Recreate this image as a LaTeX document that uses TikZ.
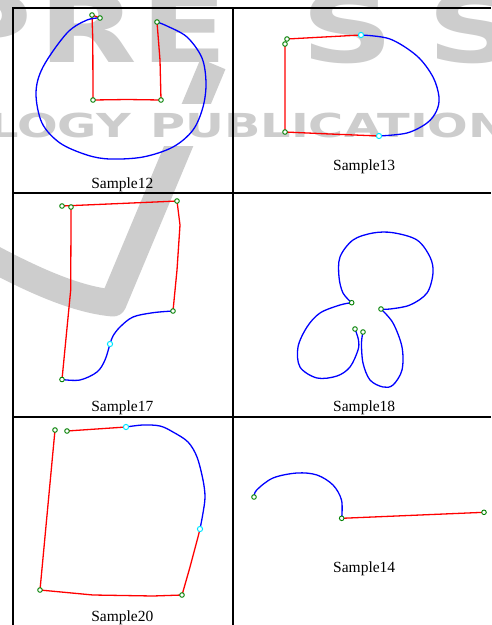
\documentclass[tikz,border=0pt]{standalone}
\usepackage{fontspec}
\setmainfont{Liberation Serif}
\newfontfamily\wmfont{DejaVu Sans}
\definecolor{wmgray}{RGB}{205,205,205}
\definecolor{redc}{RGB}{255,0,0}
\definecolor{bluec}{RGB}{0,0,255}
\definecolor{greenc}{RGB}{0,128,0}
\definecolor{cyanc}{RGB}{0,230,255}
\tikzset{
  tbl/.style={line width=2pt, black},
  redline/.style={draw=redc, line width=1.3pt, line join=round},
  blueline/.style={draw=bluec, line width=1.3pt, line join=round},
  gpt/.style={circle, draw=greenc, fill=white, line width=0.9pt, inner sep=0pt, minimum size=4.6pt},
  cpt/.style={circle, draw=cyanc, fill=white, line width=1pt, inner sep=0pt, minimum size=5.2pt},
  caption/.style={anchor=base, inner sep=0pt, font=\fontsize{15.5}{18}\selectfont},
  wmbig/.style={anchor=base, inner sep=0pt, text=wmgray, xscale=1.35, font=\wmfont\bfseries\fontsize{95}{95}\selectfont},
  wmsmall/.style={inner sep=0pt, text=wmgray, xscale=1.45, font=\wmfont\bfseries\fontsize{33}{33}\selectfont},
}
\begin{document}
\begin{tikzpicture}[x=1pt,y=-1pt]
\useasboundingbox (0,0) rectangle (491,625);
\fill[white] (0,0) rectangle (491,625);
% ---- watermark ----
\draw[wmgray, line width=27pt, line join=round] (-12,256) .. controls (40,284) and (80,300) .. (113,303) -- (213,64);
\fill[white] (0,104) rectangle (491,146);
\node[wmbig] (wP) at (-15,62) {P};
\node[wmbig] (wR) at (88,62) {R};
\node[wmbig] (wE) at (184,62) {E};
\node[wmbig] (wS1) at (348,62) {S};
\node[wmbig] (wS2) at (474,62) {S};
\node[wmsmall, anchor=base east] (wTech) at (131,137) {TECHNOLOGY};
\node[wmsmall, anchor=base west] (wPub) at (150,137) {PUBLICATIONS};
% ---- table ----
\draw[tbl] (13,625) -- (13,8) -- (491,8);
\draw[tbl] (13,193) -- (491,193);
\draw[tbl] (13,417) -- (491,417);
\draw[tbl] (232.5,8) -- (232.5,625);
% ---- coordinates ----
\coordinate (a1) at (92,15);   \coordinate (a2) at (100,18);
\coordinate (a3) at (93,100);  \coordinate (a4) at (161,100);
\coordinate (a5) at (157,22);
\coordinate (b1) at (287,39);  \coordinate (b2) at (285,44);
\coordinate (b3) at (285,132); \coordinate (c1) at (361,35);
\coordinate (c2) at (379,136);
\coordinate (d1) at (62,206);  \coordinate (d2) at (71,207);
\coordinate (d3) at (177,201); \coordinate (d4) at (173,311);
\coordinate (e1) at (110,344); \coordinate (d5) at (62,379.5);
\coordinate (f1) at (351.7,302.7); \coordinate (f2) at (381,309);
\coordinate (f3) at (355,329); \coordinate (f4) at (363,332);
\coordinate (g1) at (55,430);  \coordinate (g2) at (67,431);
\coordinate (h1) at (126,427); \coordinate (h2) at (200,529);
\coordinate (g3) at (182,595); \coordinate (g4) at (40,590);
\coordinate (k1) at (254,497); \coordinate (k2) at (341.7,518.3);
\coordinate (k3) at (484,512.3);
% ---- Sample12 ----
\draw[redline] (a1) -- (92.8,40) -- (a3) -- (127,99.5) -- (a4) -- (160,60) -- (a5);
\draw[redline] (a1) -- (a2);
\draw[blueline] plot[smooth, tension=0.55] coordinates {(a2) (87,20) (67,33) (43,67) (36,93) (42,123) (60,143) (87,155) (110,159) (143,157) (173,147) (193,130) (203,107) (206,83) (202,58) (187,37) (167,26) (a5)};
% ---- Sample13 ----
\draw[redline] (b1) -- (c1);
\draw[redline] (b2) -- (b3) -- (330,134) -- (c2);
\draw[blueline] plot[smooth, tension=0.55] coordinates {(c1) (390,39) (417,56) (433,77) (439,97) (436.5,111) (427,123) (407,133) (c2)};
% ---- Sample17 ----
\draw[redline] (d1) -- (155,202) -- (d3) -- (180,225) -- (177,270) -- (d4);
\draw[redline] (d2) -- (71,223) -- (70.7,290) -- (d5);
\draw[blueline] plot[smooth, tension=0.55] coordinates {(d4) (153,312.7) (133,317) (120,327) (113,336) (e1) (105,360) (97,372) (80,380) (d5)};
% ---- Sample18 ----
\draw[blueline] plot[smooth, tension=0.55] coordinates {(f1) (343,293) (339,277) (340,257) (353,240) (373,233) (393,232.7) (417,240) (430,257) (433,273) (427,293) (410,305) (390,309) (f2)};
\draw[blueline] plot[smooth, tension=0.55] coordinates {(f1) (340,305) (320,313) (307,327) (298,347) (300,367) (317,378) (337,376) (350,367) (358,350) (358.5,340) (f3)};
\draw[blueline] plot[smooth, tension=0.55] coordinates {(f2) (393,323) (402,347) (402,370) (393,385) (383,387) (370,380) (363,363) (361.5,343) (f4)};
% ---- Sample20 ----
\draw[redline] (g1) -- (g4) -- (93,595) -- (153,596) -- (g3) -- (190,567) -- (198,537) -- (h2);
\draw[redline] (g2) -- (h1);
\draw[blueline] plot[smooth, tension=0.55] coordinates {(h1) (143,425) (160,426) (173,432) (188,442) (197,457) (203,480) (205,497) (203,513) (h2)};
% ---- Sample14 ----
\draw[blueline] plot[smooth, tension=0.55] coordinates {(k1) (256.7,490) (273,478) (297,473) (317,475) (333,485) (341.5,500) (k2)};
\draw[redline] (k2) -- (k3);
% ---- markers ----
\foreach \p in {a1,a2,a3,a4,a5,b1,b2,b3,d1,d2,d3,d4,d5,f1,f2,f3,f4,g1,g2,g3,g4,k1,k2,k3}
  \node[gpt] (m\p) at (\p) {};
\foreach \p in {c1,c2,e1,h1,h2}
  \node[cpt] (m\p) at (\p) {};
% ---- captions ----
\node[caption] (t12) at (122.3,188.5) {Sample12};
\node[caption] (t13) at (364.2,170.7) {Sample13};
\node[caption] (t17) at (122.3,411.7) {Sample17};
\node[caption] (t18) at (364.2,411.7) {Sample18};
\node[caption] (t20) at (122.3,621.7) {Sample20};
\node[caption] (t14) at (364.2,572.7) {Sample14};
\end{tikzpicture}
\end{document}
